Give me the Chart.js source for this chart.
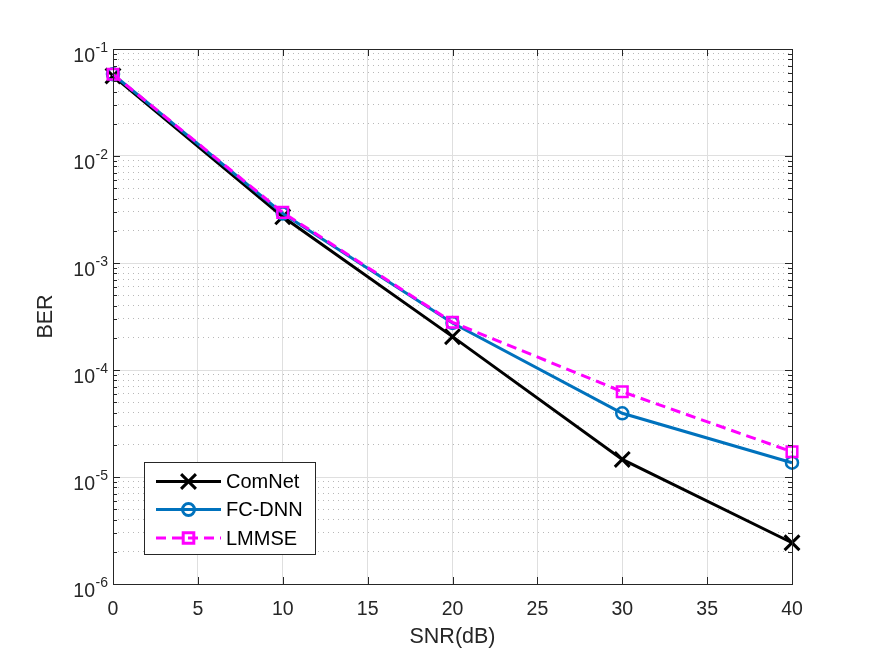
<!DOCTYPE html>
<html><head><meta charset="utf-8">
<script src="https://cdn.jsdelivr.net/npm/chart.js@4"></script>
<style>html,body{margin:0;padding:0;background:#fff}canvas{display:block}</style>
</head><body>
<canvas id="c" width="875" height="657"></canvas>
<script>
// ---- data ----
const snr = [0, 10, 20, 30, 40];
const comnet = [0.056, 0.0027, 2.05e-4, 1.46e-5, 2.43e-6];
const fcdnn  = [0.058, 0.0029, 2.75e-4, 3.94e-5, 1.36e-5];
const lmmse  = [0.058, 0.00297, 2.79e-4, 6.27e-5, 1.72e-5];
const seriesNames = ['ComNet', 'FC-DNN', 'LMMSE'];
const xTicks = [0, 5, 10, 15, 20, 25, 30, 35, 40];
const yTickValues = [1e-6, 1e-5, 1e-4, 1e-3, 1e-2, 1e-1];
const yTickExps = ['-6', '-5', '-4', '-3', '-2', '-1'];
const xTitle = 'SNR(dB)';
const yTitle = 'BER';

const FONT = '"Liberation Sans", Arial, Helvetica, sans-serif';
const AX = '#262626';

function isMajor(v) { const l = Math.log10(v); return Math.abs(l - Math.round(l)) < 1e-6; }
function logTicks(scale) {
  const t = [];
  for (let i = 0; i < yTickValues.length; i++) {
    const base = yTickValues[i];
    const n = i === yTickValues.length - 1 ? 1 : 9;
    for (let k = 1; k <= n; k++) t.push({ value: +(k * base).toPrecision(6), major: k === 1 });
  }
  scale.ticks = t;
}
function toXY(ys) { return snr.map((x, i) => ({ x: x, y: ys[i] })); }

const matlab = {
  id: 'matlab',
  afterDraw(chart) {
    const ctx = chart.ctx, a = chart.chartArea;
    const xs = chart.scales.x, ys = chart.scales.y;
    ctx.save();
    // inward ticks
    ctx.strokeStyle = AX; ctx.lineWidth = 1;
    ctx.beginPath();
    xs.ticks.forEach(t => {
      const px = Math.round(xs.getPixelForValue(t.value)) + 0.5;
      ctx.moveTo(px, a.bottom); ctx.lineTo(px, a.bottom - 7);
      ctx.moveTo(px, a.top); ctx.lineTo(px, a.top + 7);
    });
    ys.ticks.forEach(t => {
      const py = Math.round(ys.getPixelForValue(t.value)) + 0.5;
      const len = isMajor(t.value) ? 7 : 4;
      ctx.moveTo(a.left, py); ctx.lineTo(a.left + len, py);
      ctx.moveTo(a.right, py); ctx.lineTo(a.right - len, py);
    });
    ctx.stroke();
    // box
    ctx.strokeRect(Math.round(a.left) + 0.5, Math.round(a.top) + 0.5, Math.round(a.right - a.left), Math.round(a.bottom - a.top));
    // y tick labels with superscript exponents
    ctx.fillStyle = AX;
    ctx.textBaseline = 'alphabetic';
    yTickValues.forEach((v, i) => {
      const py = ys.getPixelForValue(v);
      ctx.font = '14px ' + FONT;
      const ew = ctx.measureText(yTickExps[i]).width;
      const ex = 108 - ew;
      ctx.textAlign = 'left';
      ctx.fillText(yTickExps[i], ex, py + 2.5);
      ctx.font = '19.5px ' + FONT;
      ctx.textAlign = 'right';
      ctx.fillText('10', ex - 0.5, py + 12.5);
    });
    // legend
    const L = { x: 144.5, y: 462.5, w: 171, h: 92 };
    ctx.fillStyle = '#fff';
    ctx.fillRect(L.x, L.y, L.w, L.h);
    ctx.strokeStyle = AX; ctx.lineWidth = 1;
    ctx.strokeRect(L.x, L.y, L.w, L.h);
    const rows = [481.5, 509.5, 538];
    chart.data.datasets.forEach((ds, i) => {
      const y = rows[i];
      ctx.save();
      ctx.strokeStyle = ds.borderColor; ctx.lineWidth = ds.borderWidth;
      ctx.setLineDash(ds.borderDash || []);
      ctx.beginPath(); ctx.moveTo(156, y); ctx.lineTo(221, y); ctx.stroke();
      ctx.setLineDash([]);
      ctx.strokeStyle = ds.pointBorderColor; ctx.fillStyle = 'rgba(0,0,0,0)';
      Chart.helpers.drawPoint(ctx, { pointStyle: ds.pointStyle, radius: ds.pointRadius, borderWidth: ds.pointBorderWidth, rotation: 0 }, 188.5, y);
      ctx.restore();
      ctx.fillStyle = '#000'; ctx.font = '20px ' + FONT;
      ctx.textAlign = 'left'; ctx.textBaseline = 'middle';
      ctx.fillText(ds.label, 226, y + 1);
    });
    ctx.restore();
  }
};

new Chart(document.getElementById('c'), {
  type: 'line',
  data: {
    datasets: [
      { label: seriesNames[0], data: toXY(comnet), borderColor: '#000000', borderWidth: 3, clip: false,
        pointStyle: 'crossRot', pointRadius: 10.5, pointBorderWidth: 3, pointBorderColor: '#000000',
        pointBackgroundColor: 'rgba(0,0,0,0)', order: 2 },
      { label: seriesNames[1], data: toXY(fcdnn), borderColor: '#0072BD', borderWidth: 3, clip: false,
        pointStyle: 'circle', pointRadius: 6, pointBorderWidth: 2.5, pointBorderColor: '#0072BD',
        pointBackgroundColor: 'rgba(0,0,0,0)', order: 1 },
      { label: seriesNames[2], data: toXY(lmmse), borderColor: '#FF00FF', borderWidth: 3, borderDash: [10, 6], clip: false,
        pointStyle: 'rect', pointRadius: 7.5, pointBorderWidth: 2.5, pointBorderColor: '#FF00FF',
        pointBackgroundColor: 'rgba(0,0,0,0)', order: 0 }
    ]
  },
  options: {
    responsive: false, animation: false,
    layout: { padding: { top: 49, right: 83, left: 0, bottom: 0 } },
    plugins: { legend: { display: false }, tooltip: { enabled: false } },
    elements: { line: { tension: 0 } },
    scales: {
      x: {
        type: 'linear', min: 0, max: 40,
        afterBuildTicks: s => { s.ticks = xTicks.map(v => ({ value: v })); },
        afterFit: s => { s.height = 73; },
        ticks: { color: AX, font: { family: FONT, size: 19.5 }, padding: 14, maxRotation: 0, autoSkip: false },
        grid: { color: '#dfdfdf', lineWidth: 1, drawTicks: false },
        border: { display: true, color: AX },
        title: { display: true, text: xTitle, color: AX, font: { family: FONT, size: 21.5 }, padding: { top: 0, bottom: 7 } }
      },
      y: {
        type: 'logarithmic', min: 1e-6, max: 1e-1, position: 'left',
        afterBuildTicks: logTicks,
        afterFit: s => { s.width = 113; },
        ticks: { display: false },
        grid: { drawTicks: false, lineWidth: 1,
          color: c => (c.tick && isMajor(c.tick.value)) ? '#dfdfdf' : 'rgba(0,0,0,0)' },
        border: { display: true, color: AX },
        title: { display: true, text: yTitle, color: AX, font: { family: FONT, size: 21.5 }, padding: { top: 33, bottom: 0 } }
      },
      y2: {
        type: 'logarithmic', min: 1e-6, max: 1e-1, position: 'left',
        afterBuildTicks: logTicks,
        afterFit: s => { s.width = 0; },
        ticks: { display: false },
        grid: { drawTicks: false, lineWidth: 1,
          color: c => (c.tick && !isMajor(c.tick.value)) ? '#b8b8b8' : 'rgba(0,0,0,0)' },
        border: { display: false, dash: [1, 4] }
      }
    }
  },
  plugins: [matlab]
});
</script>
</body></html>
